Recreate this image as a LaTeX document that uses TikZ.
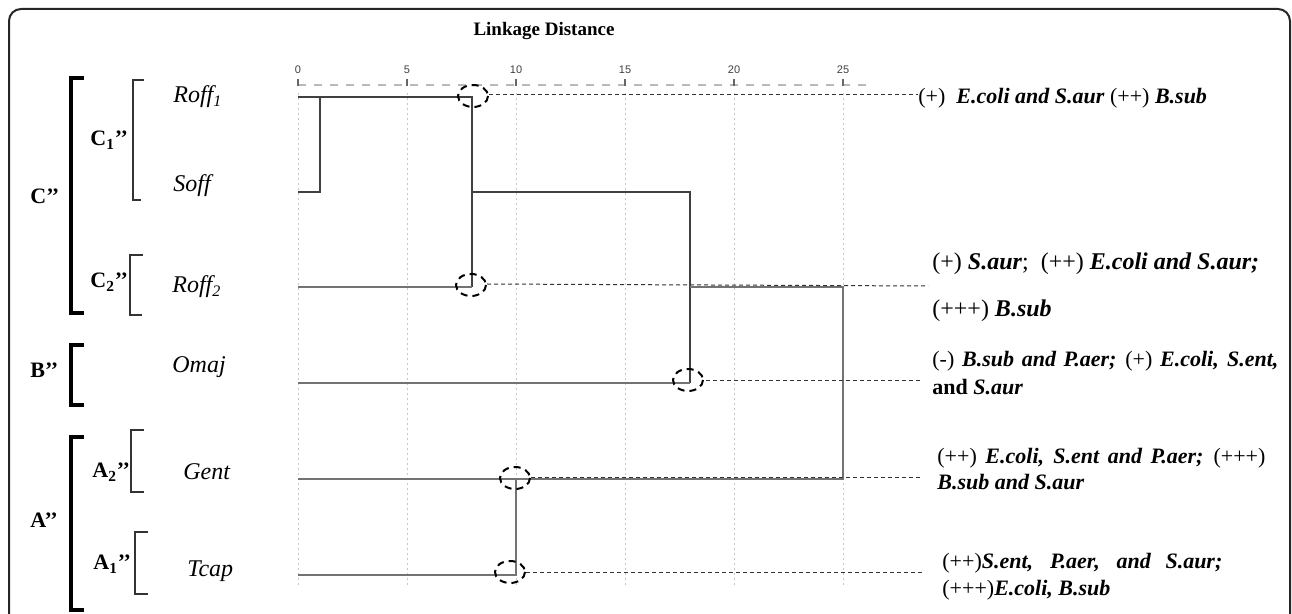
\documentclass[tikz,border=0pt]{standalone}
\usepackage{fontspec}
\setmainfont{Liberation Serif}
\newfontfamily\tickfont{Liberation Sans}
\newcommand\bi[1]{\textbf{\textit{#1}}}
\tikzset{
  frame/.style={draw=black!85, line width=1pt, rounded corners=6pt},
  dend/.style={draw=black!75, line width=1pt},
  dendl/.style={draw=black!55, line width=0.9pt},
  gridl/.style={draw=black!22, line width=0.5pt, dash pattern=on 1pt off 1.5pt},
  axisl/.style={draw=black!28, line width=0.6pt, dash pattern=on 4pt off 4pt},
  tickl/.style={draw=black!60, line width=0.6pt},
  circ/.style={draw=black, line width=1pt, dash pattern=on 3.5pt off 2.5pt},
  lead/.style={draw=black!80, line width=0.5pt, dash pattern=on 2pt off 1.5pt},
  brthick/.style={draw=black, line width=2pt},
  brthin/.style={draw=black!80, line width=0.55pt},
  leaf/.style={font=\fontsize{12}{14}\selectfont\itshape, anchor=base west, inner sep=0pt},
  grp/.style={font=\fontsize{11}{13}\selectfont\bfseries, anchor=base west, inner sep=0pt},
  res/.style={font=\fontsize{11}{13}\selectfont, anchor=base west, inner sep=0pt},
  resbig/.style={font=\fontsize{12}{14}\selectfont, anchor=base west, inner sep=0pt},
  ticklab/.style={font=\tickfont\fontsize{5.5}{6}\selectfont, text=black!75, inner sep=0pt},
  title/.style={font=\fontsize{9.5}{11}\selectfont\bfseries, inner sep=0pt}
}
\begin{document}
\begin{tikzpicture}[x=0.5pt, y=-0.5pt]
\useasboundingbox (0,0) rectangle (1292,614);
\clip (0,0) rectangle (1292,614);
% frame
\draw[frame] (9,9) rectangle (1290,660);

% title and axis
\node[title] (ttl) at (544,31) {Linkage Distance};
\draw[axisl] (298,85) -- (870,85);
\foreach \u in {0,5,10,15,20,25}{
  \pgfmathsetmacro\xx{298+21.8*\u}
  \draw[tickl] (\xx,79) -- (\xx,86);
  \node[ticklab] (t\u) at (\xx,70) {\u};
  \draw[gridl] (\xx,93) -- (\xx,585);
}

% dendrogram coordinates
\coordinate (L1) at (298,97);  \coordinate (L2) at (298,192);
\coordinate (L3) at (298,287); \coordinate (L4) at (298,383);
\coordinate (L5) at (298,479); \coordinate (L6) at (298,575);
\coordinate (a1) at (320,192); \coordinate (a2) at (320,97);
\coordinate (b1) at (472,97);  \coordinate (b2) at (472,287); \coordinate (b3) at (472,192);
\coordinate (c1) at (690,192); \coordinate (c2) at (690,383); \coordinate (c3) at (690,287);
\coordinate (d1) at (843,287); \coordinate (d2) at (843,479);
\coordinate (e1) at (516,479); \coordinate (e2) at (516,575);

\draw[dend] (L2) -- (a1) -- (a2);
\draw[dend] (L1) -- (b1) -- (b2);
\draw[dendl] (b2) -- (L3);
\draw[dend] (b3) -- (c1) -- (c2);
\draw[dendl] (c2) -- (L4);
\draw[dendl] (c3) -- (d1) -- (d2) -- (L5);
\draw[dendl] (e1) -- (e2) -- (L6);

% dashed circles
\draw[circ] (473,96) ellipse [x radius=15, y radius=11];
\draw[circ] (471,285) ellipse [x radius=15, y radius=11];
\draw[circ] (688,380) ellipse [x radius=15, y radius=11];
\draw[circ] (515,478) ellipse [x radius=15, y radius=11];
\draw[circ] (510,572) ellipse [x radius=15, y radius=11];

% result texts
\node[res] (r1) at (918,104) {(+)\ \ \bi{E.coli and S.aur} (++) \bi{B.sub}};
\node[resbig] (r2a) at (932,270) {(+) \bi{S.aur};\ \ (++) \bi{E.coli and S.aur;}};
\node[resbig] (r2b) at (932,317) {(+++) \bi{B.sub}};
\node[res] (r3a) at (932,367) {\makebox[173pt][s]{(-) \bi{B.sub and P.aer;} (+) \bi{E.coli, S.ent,}}};
\node[res] (r3b) at (932,395) {\textbf{and} \bi{S.aur}};
\node[res] (r4a) at (937,464) {\makebox[164pt][s]{(++) \bi{E.coli, S.ent and P.aer;} (+++)}};
\node[res] (r4b) at (937,490) {\bi{B.sub and S.aur}};
\node[res] (r5a) at (942,569) {\makebox[140pt][s]{(++)\bi{S.ent, P.aer, and S.aur;}}};
\node[res] (r5b) at (942,596) {(+++)\bi{E.coli, B.sub}};

% leader lines
\coordinate (k1) at (489,95);  \coordinate (k2) at (487,284);
\coordinate (k3) at (706,381); \coordinate (k4) at (531,478); \coordinate (k5) at (526,573);
\draw[lead] (k1) -- (r1.west |- k1);
\draw[lead] (k2) -- (928,286);
\draw[lead] (k3) -- (923,381);
\draw[lead] (k4) -- (923,478);
\draw[lead] (k5) -- (923,573);

% leaf labels
\node[leaf] (n1) at (173,103) {Roff\textsubscript{1}};
\node[leaf] (n2) at (173,192) {Soff};
\node[leaf] (n3) at (172,293) {Roff\textsubscript{2}};
\node[leaf] (n4) at (172,373) {Omaj};
\node[leaf] (n5) at (183,480) {Gent};
\node[leaf] (n6) at (187,577) {Tcap};

% group brackets
\draw[brthick] (84,78) -- (71,78) -- (71,313) -- (84,313);
\draw[brthick] (84,345) -- (71,345) -- (71,405) -- (84,405);
\draw[brthick] (84,437) -- (71,437) -- (71,610) -- (84,610);
\draw[brthin] (144,80) -- (133,80) -- (133,200) -- (141,200);
\draw[brthin] (143,255) -- (130,255) -- (130,315) -- (142,315);
\draw[brthin] (144,430) -- (131,430) -- (131,492) -- (144,492);
\draw[brthin] (148,532) -- (135,532) -- (135,594) -- (148,594);

% group labels
\node[grp] (gC) at (30,204) {C’’};
\node[grp] (gC1) at (90,146) {C\textsubscript{1}’’};
\node[grp] (gC2) at (90,288) {C\textsubscript{2}’’};
\node[grp] (gB) at (30,378) {B’’};
\node[grp] (gA) at (30,528) {A’’};
\node[grp] (gA2) at (92,478) {A\textsubscript{2}’’};
\node[grp] (gA1) at (93,570) {A\textsubscript{1}’’};
\end{tikzpicture}
\end{document}
